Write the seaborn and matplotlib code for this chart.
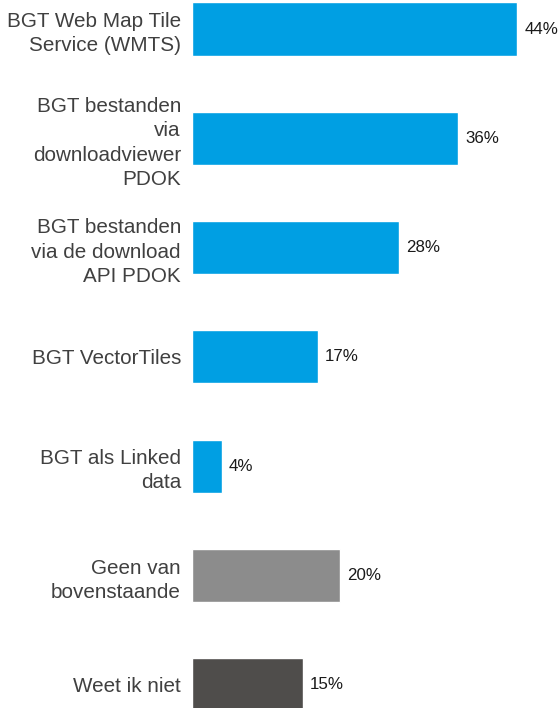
import matplotlib
matplotlib.use("Agg")
import matplotlib.pyplot as plt
import seaborn as sns
import pandas as pd

# data
categories = [
    "BGT Web Map Tile\nService (WMTS)",
    "BGT bestanden\nvia\ndownloadviewer\nPDOK",
    "BGT bestanden\nvia de download\nAPI PDOK",
    "BGT VectorTiles",
    "BGT als Linked\ndata",
    "Geen van\nbovenstaande",
    "Weet ik niet",
]
percentages = [44, 36, 28, 17, 4, 20, 15]
bar_colors = ["#009FE3", "#009FE3", "#009FE3", "#009FE3", "#009FE3", "#8C8C8C", "#4F4D4B"]

df = pd.DataFrame({"categorie": categories, "procent": percentages})

sns.set_theme(style="white")
plt.rcParams["font.family"] = ["Liberation Sans", "DejaVu Sans"]

fig = plt.figure(figsize=(5.58, 7.08), dpi=100)
ax = fig.add_axes([192 / 558, 0, 366 / 558, 1])

sns.barplot(data=df, x="procent", y="categorie", hue="categorie",
            palette=bar_colors, legend=False, width=0.485, ax=ax,
            saturation=1)

px_per_pct = 7.39
ax.set_xlim(0, 366 / px_per_pct)
spacing = 109.3
ax.set_ylim((708 - 29) / spacing, -29 / spacing)

# labels
for i, v in enumerate(percentages):
    ax.annotate(f"{v}%", xy=(v, i), xytext=(5.3, 0), textcoords="offset points",
                va="center", ha="left", fontsize=12.2, color="#1a1a1a")

ax.set_xlabel("")
ax.set_ylabel("")
ax.set_xticks([])
ax.tick_params(axis="y", length=0, pad=8)
for lab in ax.get_yticklabels():
    lab.set_fontsize(14.9)
    lab.set_color("#404040")
    lab.set_linespacing(1.35)
sns.despine(ax=ax, left=True, bottom=True)

fig.savefig("out.png", dpi=100)
